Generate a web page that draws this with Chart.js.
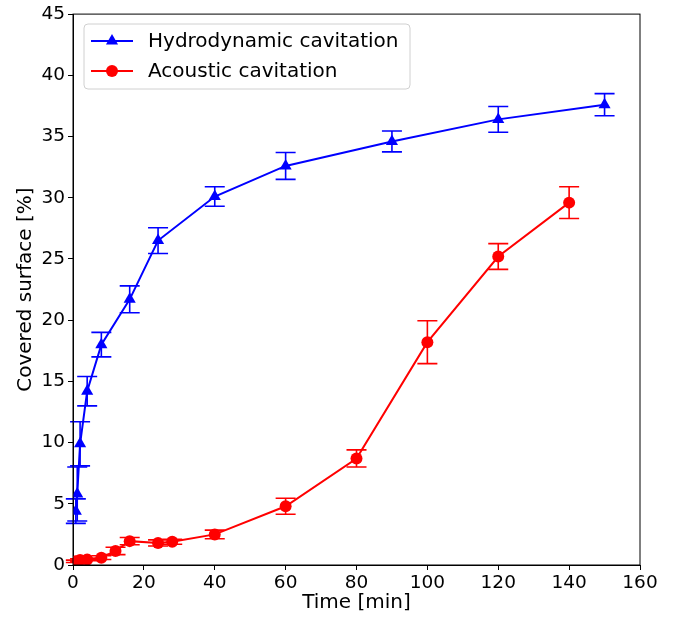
<!DOCTYPE html>
<html>
<head>
<meta charset="utf-8">
<script src="https://cdn.jsdelivr.net/npm/chart.js@4"></script>
<style>
  body { margin: 0; background: #fff; }
  #wrap { width: 678px; height: 618px; }
</style>
</head>
<body>
<div id="wrap"><canvas id="coverChart"></canvas></div>
<script>
// time [min], covered surface [%] and std deviation
const hydroTime = [0.8, 1.2, 2, 4, 8, 16, 24, 40, 60, 90, 120, 150];
const hydroSurface = [4.4, 5.8, 9.9, 14.2, 18.0, 21.7, 26.5, 30.1, 32.6, 34.6, 36.4, 37.6];
const hydroErr = [1.0, 2.2, 1.8, 1.2, 1.0, 1.1, 1.05, 0.8, 1.1, 0.85, 1.05, 0.9];

const acousticTime = [0.8, 2, 4, 8, 12, 16, 24, 28, 40, 60, 80, 100, 120, 140];
const acousticSurface = [0.3, 0.4, 0.45, 0.6, 1.15, 1.95, 1.8, 1.9, 2.5, 4.8, 8.7, 18.2, 25.2, 29.6];
const acousticErr = [0.1, 0.1, 0.1, 0.15, 0.3, 0.3, 0.25, 0.2, 0.35, 0.65, 0.7, 1.75, 1.05, 1.3];

const xTicks = [0, 20, 40, 60, 80, 100, 120, 140, 160];
const yTicks = [0, 5, 10, 15, 20, 25, 30, 35, 40, 45];

const FONT = "'DejaVu Sans', sans-serif";

const errorBars = {
    id: "errorBars",
    afterDatasetsDraw(chart) {
        const ctx = chart.ctx;
        const xs = chart.scales.x, ys = chart.scales.y;
        chart.data.datasets.forEach(ds => {
            ctx.save();
            ctx.strokeStyle = ds.borderColor;
            ctx.lineWidth = 1.6;
            ds.data.forEach((p, i) => {
                const x = xs.getPixelForValue(p.x);
                const top = ys.getPixelForValue(p.y + ds.errors[i]);
                const bot = ys.getPixelForValue(p.y - ds.errors[i]);
                ctx.beginPath();
                ctx.moveTo(x, top); ctx.lineTo(x, bot);
                ctx.moveTo(x - 10, top); ctx.lineTo(x + 10, top);
                ctx.moveTo(x - 10, bot); ctx.lineTo(x + 10, bot);
                ctx.stroke();
            });
            ctx.restore();
        });
    }
};

const frameAndLegend = {
    id: "frameAndLegend",
    afterDraw(chart) {
        const ctx = chart.ctx;
        const a = chart.chartArea;
        ctx.save();
        ctx.strokeStyle = "#000";
        ctx.lineWidth = 1;
        ctx.strokeRect(a.left, a.top, a.right - a.left, a.bottom - a.top);

        // legend box
        const bx = 84, by = 24, bw = 326, bh = 65, r = 4;
        ctx.beginPath();
        ctx.moveTo(bx + r, by);
        ctx.arcTo(bx + bw, by, bx + bw, by + bh, r);
        ctx.arcTo(bx + bw, by + bh, bx, by + bh, r);
        ctx.arcTo(bx, by + bh, bx, by, r);
        ctx.arcTo(bx, by, bx + bw, by, r);
        ctx.closePath();
        ctx.fillStyle = "rgba(255,255,255,0.8)";
        ctx.fill();
        ctx.strokeStyle = "#d0d0d0";
        ctx.stroke();

        chart.data.datasets.forEach((ds, i) => {
            const y = 41 + i * 30;
            ctx.strokeStyle = ds.borderColor;
            ctx.lineWidth = 2;
            ctx.beginPath();
            ctx.moveTo(91, y); ctx.lineTo(133, y);
            ctx.stroke();
            ctx.fillStyle = ds.backgroundColor;
            Chart.helpers.drawPoint(ctx, {
                pointStyle: ds.pointStyle, radius: ds.pointRadius, rotation: 0, borderWidth: 0
            }, 112, y);
            ctx.fillStyle = "#000";
            ctx.font = "20px " + FONT;
            ctx.textBaseline = "middle";
            ctx.fillText(ds.label, 148, y + 1);
        });
        ctx.restore();
    }
};

new Chart(document.getElementById("coverChart").getContext("2d"), {
    type: "line",
    data: {
        datasets: [
            {
                label: "Hydrodynamic cavitation",
                data: hydroTime.map((t, i) => ({ x: t, y: hydroSurface[i] })),
                errors: hydroErr,
                borderColor: "#0000ff",
                backgroundColor: "#0000ff",
                borderWidth: 2,
                pointStyle: "triangle",
                pointRadius: 7,
                pointBorderWidth: 0,
                tension: 0
            },
            {
                label: "Acoustic cavitation",
                data: acousticTime.map((t, i) => ({ x: t, y: acousticSurface[i] })),
                errors: acousticErr,
                borderColor: "#ff0000",
                backgroundColor: "#ff0000",
                borderWidth: 2,
                pointStyle: "circle",
                pointRadius: 6,
                pointBorderWidth: 0,
                tension: 0
            }
        ]
    },
    options: {
        responsive: true,
        maintainAspectRatio: false,
        animation: false,
        layout: { padding: { left: 14, right: 38, top: 14, bottom: 3 } },
        plugins: { legend: { display: false }, tooltip: { enabled: false } },
        scales: {
            x: {
                type: "linear",
                min: 0,
                max: 160,
                afterBuildTicks: s => { s.ticks = xTicks.map(v => ({ value: v })); },
                afterFit: s => { s.height = 50; },
                grid: { drawOnChartArea: false, color: "#000", tickLength: 5 },
                border: { color: "#000" },
                ticks: { color: "#000", font: { family: FONT, size: 18.5 }, padding: 2, maxRotation: 0 },
                title: { display: true, text: "Time [min]", color: "#000", font: { family: FONT, size: 20 }, padding: { top: 0, bottom: 0 } }
            },
            y: {
                min: 0,
                max: 45,
                afterBuildTicks: s => { s.ticks = yTicks.map(v => ({ value: v })); },
                afterFit: s => { s.width = 59; },
                grid: { drawOnChartArea: false, color: "#000", tickLength: 5 },
                border: { color: "#000" },
                ticks: { color: "#000", font: { family: FONT, size: 18.5 }, padding: 3 },
                title: { display: true, text: "Covered surface [%]", color: "#000", font: { family: FONT, size: 20 }, padding: { top: 0, bottom: 4 } }
            }
        }
    },
    plugins: [errorBars, frameAndLegend]
});
</script>
</body>
</html>
